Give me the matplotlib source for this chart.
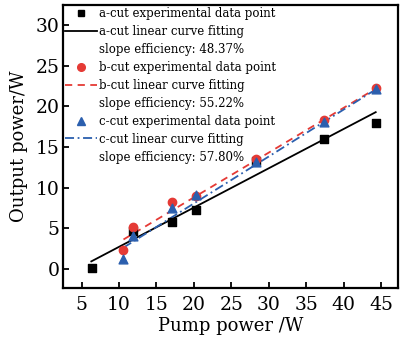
import numpy as np
import matplotlib
matplotlib.use("Agg")
import matplotlib.pyplot as plt
from matplotlib.lines import Line2D

# measured points
a_x = [6.4, 11.9, 17.1, 20.3, 28.3, 37.4, 44.3]
a_y = [0.1, 4.6, 5.8, 7.2, 13.3, 16.0, 18.0]

b_x = [10.6, 11.9, 17.1, 20.3, 28.3, 37.4, 44.3]
b_y = [2.3, 5.2, 8.2, 9.0, 13.5, 18.3, 22.3]

c_x = [10.6, 11.9, 17.1, 20.3, 28.3, 37.4, 44.3]
c_y = [1.2, 4.0, 7.5, 9.1, 13.1, 18.1, 22.2]

# fitted line end points
a_fit_x = [6.3, 44.3]
a_fit_y = [0.9, 19.3]
b_fit_x = [10.6, 44.3]
b_fit_y = [3.6, 22.2]
c_fit_x = [10.6, 44.3]
c_fit_y = [2.6, 22.1]

slopes = ["48.37%", "55.22%", "57.80%"]

x_ticks = [5, 10, 15, 20, 25, 30, 35, 40, 45]
y_ticks = [0, 5, 10, 15, 20, 25, 30]

red = "#e53a35"
blue = "#2b5fae"

plt.rcParams["font.family"] = ["DejaVu Serif"]

fig = plt.figure(figsize=(4.03, 3.41), dpi=100)
ax = fig.add_axes([0.156, 0.155, 0.832, 0.830])

ax.plot(a_fit_x, a_fit_y, "-", color="black", lw=1.3)
ax.plot(b_fit_x, b_fit_y, "--", color=red, lw=1.3, dashes=(4, 3))
ax.plot(c_fit_x, c_fit_y, "-.", color=blue, lw=1.3, dashes=(5, 2, 1, 2))

ax.scatter(a_x, a_y, marker="s", s=26, color="black", zorder=3)
ax.scatter(b_x, b_y, marker="o", s=36, color=red, zorder=4)
ax.scatter(c_x, c_y, marker="^", s=40, color=blue, zorder=5)

ax.set_xlim(2.5, 47.3)
ax.set_ylim(-2.4, 32.5)
ax.set_xticks(x_ticks)
ax.set_yticks(y_ticks)
ax.tick_params(direction="in", length=4, width=1.3, labelsize=13.5)
ax.tick_params(axis="x", pad=6)
ax.tick_params(axis="y", pad=2.5)

for s in ["left", "bottom", "right", "top"]:
    ax.spines[s].set_linewidth(1.6)

ax.set_xlabel("Pump power /W", fontsize=13, labelpad=2)
ax.set_ylabel("Output power/W", fontsize=13, labelpad=5)

blank = Line2D([], [], linestyle="none")
handles = [
    Line2D([], [], marker="s", color="black", linestyle="none", markersize=4.5),
    Line2D([], [], color="black", lw=1.3),
    blank,
    Line2D([], [], marker="o", color=red, linestyle="none", markersize=5.5),
    Line2D([], [], color=red, lw=1.3, linestyle="--", dashes=(4, 3)),
    blank,
    Line2D([], [], marker="^", color=blue, linestyle="none", markersize=5.5),
    Line2D([], [], color=blue, lw=1.3, dashes=(5, 2, 1, 2)),
    blank,
]
labels = [
    "a-cut experimental data point",
    "a-cut linear curve fitting",
    "slope efficiency: " + slopes[0],
    "b-cut experimental data point",
    "b-cut linear curve fitting",
    "slope efficiency: " + slopes[1],
    "c-cut experimental data point",
    "c-cut linear curve fitting",
    "slope efficiency: " + slopes[2],
]
ax.legend(handles, labels, loc="upper left", frameon=False, fontsize=8.5,
          handlelength=2.7, handletextpad=0.25, borderaxespad=0.0,
          borderpad=0.15, labelspacing=0.42)

fig.savefig("out.png", dpi=100)
